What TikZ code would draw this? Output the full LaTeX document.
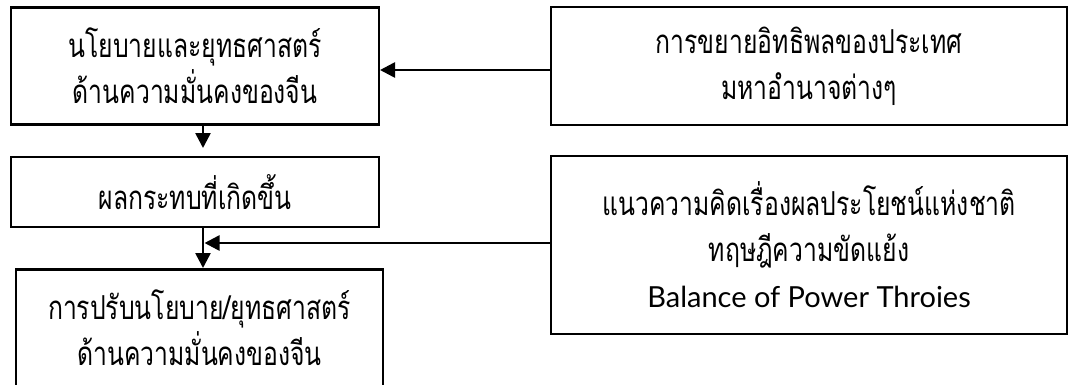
\documentclass[tikz,border=0pt]{standalone}
\usepackage{fontspec}
\newfontfamily\thaifont[Script=Thai, FakeStretch=0.75]{Loma}
\newfontfamily\latinfont{Lato}
\usetikzlibrary{arrows.meta}
\begin{document}
\begin{tikzpicture}[x=1pt,y=-1pt,
  txt/.style={align=center, inner sep=0pt, font=\thaifont\fontsize{33}{46}\selectfont},
  box/.style={txt, draw=black, line width=2.6pt},
  arr/.style={line width=2.6pt, -{Triangle[length=15pt,width=15pt]}}]
\useasboundingbox (0,0) rectangle (1068,384);
\fill[white] (0,0) rectangle (1068,384);
\clip (0,0) rectangle (1068,384);
% left column
\node[box, minimum width=368pt, minimum height=117pt] (A) at (195,66) {นโยบายและยุทธศาสตร์\\ด้านความมั่นคงของจีน};
\node[box, minimum width=368pt, minimum height=70pt] (B) at (195,192) {ผลกระทบที่เกิดขึ้น};
\node[box, minimum width=367pt, minimum height=160pt, anchor=north] (C) at (199.5,268) {};
\node[txt] (Ct) at (199.5,328) {การปรับนโยบาย/ยุทธศาสตร์\\ด้านความมั่นคงของจีน};
% right column
\node[box, minimum width=516pt, minimum height=118pt] (E) at (809,66) {การขยายอิทธิพลของประเทศ\\มหาอำนาจต่างๆ};
\node[box, minimum width=516pt, minimum height=178pt] (D) at (809,245) {แนวความคิดเรื่องผลประโยชน์แห่งชาติ\\ทฤษฎีความขัดแย้ง\\{\latinfont\fontsize{29}{46}\selectfont Balance of Power Throies}};
% connectors
\coordinate (ea) at (380,70);
\coordinate (ab) at (203,148);
\coordinate (vx) at (203,0);
\coordinate (dj) at (204.5,243);
\draw[arr] (E.west |- ea) -- (ea);
\draw[arr] (A.south -| ab) -- (ab);
\draw[arr] (B.south -| vx) -- (C.north -| vx);
\draw[arr] (D.west |- dj) -- (dj);
\end{tikzpicture}
\end{document}
